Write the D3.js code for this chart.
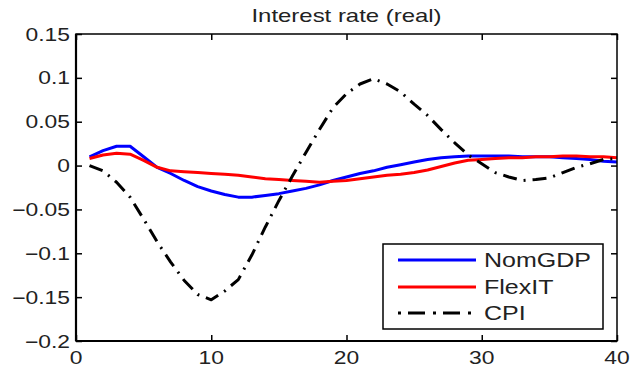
<!DOCTYPE html>
<html>
<head>
<meta charset="utf-8">
<script src="https://cdn.jsdelivr.net/npm/d3@7"></script>
<style>
html,body{margin:0;padding:0;background:#fff;}
svg{display:block;}
text{font-family:"Liberation Sans",Arial,sans-serif;fill:#222;}
</style>
</head>
<body>
<svg id="chart" width="631" height="370"></svg>
<script>
const title = "Interest rate (real)";
const periods = [1,2,3,4,5,6,7,8,9,10,11,12,13,14,15,16,17,18,19,20,21,22,23,24,25,26,27,28,29,30,31,32,33,34,35,36,37,38,39,40];
const nomGDP = [0.010,0.017,0.022,0.022,0.010,-0.002,-0.009,-0.017,-0.024,-0.029,-0.033,-0.036,-0.036,-0.034,-0.032,-0.029,-0.026,-0.022,-0.017,-0.013,-0.009,-0.006,-0.002,0.001,0.004,0.007,0.009,0.010,0.011,0.011,0.011,0.011,0.010,0.010,0.010,0.009,0.008,0.007,0.005,0.004];
const flexIT = [0.008,0.012,0.014,0.013,0.006,-0.002,-0.006,-0.007,-0.008,-0.009,-0.010,-0.011,-0.013,-0.015,-0.016,-0.017,-0.018,-0.019,-0.018,-0.017,-0.015,-0.013,-0.011,-0.010,-0.008,-0.005,-0.001,0.003,0.006,0.007,0.008,0.009,0.009,0.010,0.010,0.011,0.011,0.010,0.010,0.009];
const cpi = [0.000,-0.006,-0.019,-0.036,-0.061,-0.087,-0.110,-0.131,-0.147,-0.153,-0.143,-0.130,-0.102,-0.070,-0.040,-0.012,0.015,0.041,0.066,0.082,0.093,0.099,0.093,0.084,0.070,0.057,0.041,0.026,0.012,0.002,-0.008,-0.013,-0.017,-0.016,-0.014,-0.008,-0.002,0.002,0.007,0.008];
const xTicks = [0,10,20,30,40];
const yTicks = [-0.2,-0.15,-0.1,-0.05,0,0.05,0.1,0.15];
const yTickLabels = ["\u22120.2","\u22120.15","\u22120.1","\u22120.05","0","0.05","0.1","0.15"];
const seriesNames = ["NomGDP","FlexIT","CPI"];

const series = [
  {name: seriesNames[0], values: nomGDP, color: "#0000ff", dash: null},
  {name: seriesNames[1], values: flexIT, color: "#ff0000", dash: null},
  {name: seriesNames[2], values: cpi, color: "#000000", dash: "14,7,2,7"}
];

const svg = d3.select("#chart");
const L = 76, T = 34, R = 617, B = 341;
const x = d3.scaleLinear().domain([0,40]).range([L,R]);
const y = d3.scaleLinear().domain([-0.2,0.15]).range([B,T]);
const SX = 1.27;

function stretchedText(g, tx, ty, str, size, anchor, sx){
  return g.append("text")
    .attr("transform", `translate(${tx},${ty}) scale(${sx},1)`)
    .attr("text-anchor", anchor)
    .attr("font-size", size)
    .text(str);
}

svg.append("rect").attr("x",L).attr("y",T).attr("width",R-L).attr("height",B-T).attr("fill","#fff");

const clip = svg.append("clipPath").attr("id","clip").append("rect")
  .attr("x",L).attr("y",T).attr("width",R-L).attr("height",B-T);
const lineGen = d3.line().x((d,i)=>x(periods[i])).y(d=>y(d));
const plotG = svg.append("g").attr("clip-path","url(#clip)");
series.forEach(s=>{
  plotG.append("path").datum(s.values)
    .attr("d", lineGen)
    .attr("fill","none")
    .attr("stroke", s.color)
    .attr("stroke-width", 3)
    .attr("stroke-linejoin","round")
    .attr("stroke-dasharray", s.dash);
});

const axG = svg.append("g");
const tickLen = 6;
axG.append("g").attr("transform",`translate(0,${B})`)
  .call(d3.axisBottom(x).tickValues(xTicks).tickSizeInner(-tickLen).tickSizeOuter(0).tickFormat(""))
  .call(g=>g.select(".domain").remove());
axG.append("g").attr("transform",`translate(0,${T})`)
  .call(d3.axisTop(x).tickValues(xTicks).tickSizeInner(-tickLen).tickSizeOuter(0).tickFormat(""))
  .call(g=>g.select(".domain").remove());
axG.append("g").attr("transform",`translate(${L},0)`)
  .call(d3.axisLeft(y).tickValues(yTicks).tickSizeInner(-tickLen).tickSizeOuter(0).tickFormat(""))
  .call(g=>g.select(".domain").remove());
axG.append("g").attr("transform",`translate(${R},0)`)
  .call(d3.axisRight(y).tickValues(yTicks).tickSizeInner(-tickLen).tickSizeOuter(0).tickFormat(""))
  .call(g=>g.select(".domain").remove());
axG.selectAll(".tick line").attr("stroke","#000").attr("stroke-width",1.5);
axG.append("rect").attr("x",L).attr("y",T).attr("width",R-L).attr("height",B-T)
  .attr("fill","none").attr("stroke","#000").attr("stroke-width",1.5);
axG.append("line").attr("x1",L).attr("x2",L).attr("y1",T).attr("y2",B).attr("stroke","#000").attr("stroke-width",2.2);
axG.append("line").attr("x1",L).attr("x2",R).attr("y1",B).attr("y2",B).attr("stroke","#000").attr("stroke-width",2.2);

const lab = svg.append("g");
yTicks.forEach((v,i)=>{
  stretchedText(lab, 70, y(v)+6.5, yTickLabels[i], 18, "end", SX);
});
xTicks.forEach(v=>{
  stretchedText(lab, x(v), 364, String(v), 18, "middle", SX);
});

stretchedText(svg, (L+R)/2, 22, title, 18, "middle", 1.33);

const lg = svg.append("g");
const lx0 = 383, ly0 = 244, lw = 220, lh = 85;
lg.append("rect").attr("x",lx0).attr("y",ly0).attr("width",lw).attr("height",lh)
  .attr("fill","#fff").attr("stroke","#000").attr("stroke-width",1.5);
const rowY = [260, 287, 313];
series.forEach((s,i)=>{
  lg.append("line").attr("x1",398).attr("x2",476).attr("y1",rowY[i]).attr("y2",rowY[i])
    .attr("stroke",s.color).attr("stroke-width",3)
    .attr("stroke-dasharray", s.dash ? "3,7,17,8" : null);
  stretchedText(lg, 484, rowY[i]+7, s.name, 20, "start", 1.25);
});
</script>
</body>
</html>
